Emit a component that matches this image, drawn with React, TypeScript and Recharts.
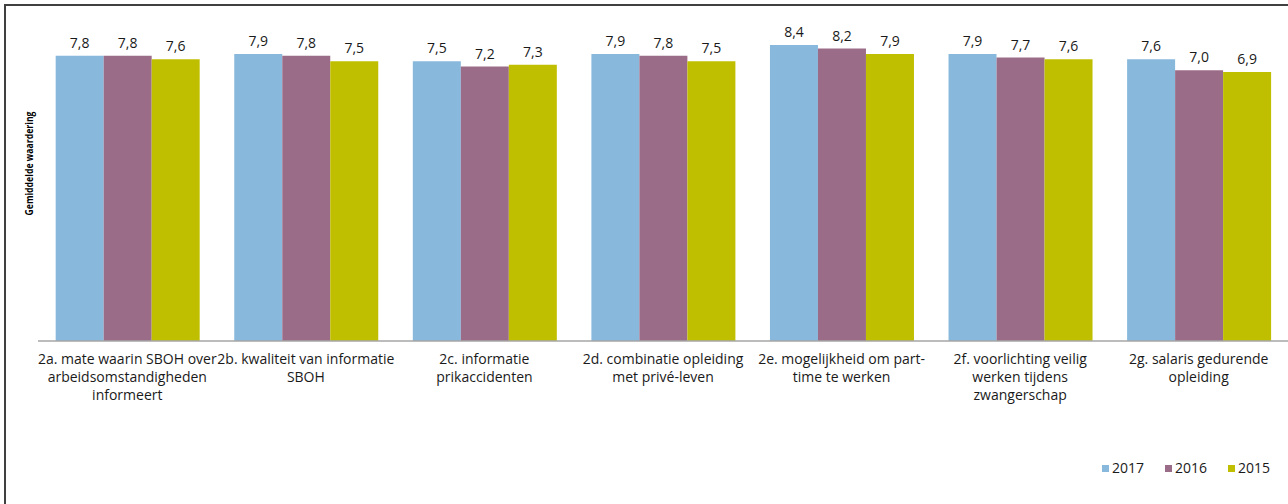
import { BarChart, Bar, XAxis, YAxis, LabelList } from 'recharts';

const categories = [
  '2a. mate waarin SBOH over\narbeidsomstandigheden\ninformeert',
  '2b. kwaliteit van informatie\nSBOH',
  '2c. informatie\nprikaccidenten',
  '2d. combinatie opleiding\nmet privé-leven',
  '2e. mogelijkheid om part-\ntime te werken',
  '2f. voorlichting veilig\nwerken tijdens\nzwangerschap',
  '2g. salaris gedurende\nopleiding',
];

const values2017 = [7.8, 7.9, 7.5, 7.9, 8.4, 7.9, 7.6];
const values2016 = [7.8, 7.8, 7.2, 7.8, 8.2, 7.7, 7.0];
const values2015 = [7.6, 7.5, 7.3, 7.5, 7.9, 7.6, 6.9];

// the original value axis runs from -8 to 10, bars grow from the bottom
const AXIS_MIN = -8;
const AXIS_MAX = 10;

const series = [
  { key: 'v2017', name: '2017', color: '#88B9DC' },
  { key: 'v2016', name: '2016', color: '#9B6C87' },
  { key: 'v2015', name: '2015', color: '#BFBF00' },
];

const data = categories.map((name, i) => ({
  name,
  v2017: [AXIS_MIN, values2017[i]],
  v2016: [AXIS_MIN, values2016[i]],
  v2015: [AXIS_MIN, values2015[i]],
}));

const FONT = '"Open Sans", sans-serif';

const CategoryTick = ({ x, y, payload }: any) => {
  const lines = String(payload.value).split('\n');
  return (
    <text x={x} y={y} textAnchor="middle" fill="#1a1a1a" fontSize={14} fontFamily={FONT}>
      {lines.map((line, i) => (
        <tspan key={i} x={x} dy={i === 0 ? 23 : 18}>
          {line}
        </tspan>
      ))}
    </text>
  );
};

const fmt = (v: any) => Number(v).toFixed(1).replace('.', ',');

export default function App() {
  return (
    <div style={{ position: 'absolute', left: 0, top: 0, width: 1288, height: 504, background: '#fff', overflow: 'hidden' }}>
      <div
        style={{
          position: 'absolute',
          left: 4,
          top: 4,
          width: 1320,
          height: 540,
          border: '2px solid #404040',
        }}
      />
      <svg style={{ position: 'absolute', left: 0, top: 0 }} width={60} height={340}>
        <text
          x={0}
          y={0}
          transform="translate(33 163.5) rotate(-90)"
          textAnchor="middle"
          fontFamily={FONT}
          fontSize={10.5}
          fontWeight={700}
          fill="#000"
          textLength={104}
          lengthAdjust="spacingAndGlyphs"
        >
          Gemiddelde waardering
        </text>
      </svg>
      <div style={{ position: 'absolute', left: 0, top: 0 }}>
        <BarChart
          width={1288}
          height={504}
          data={data}
          margin={{ top: 16, right: 0, left: 38, bottom: 0 }}
          barCategoryGap="9.9%"
          barGap={0}
        >
          <XAxis
            dataKey="name"
            interval={0}
            height={163}
            tickLine={false}
            tickSize={0}
            tickMargin={0}
            axisLine={{ stroke: '#A6A6A6', strokeWidth: 1.5 }}
            tick={<CategoryTick />}
          />
          <YAxis hide width={0} domain={[AXIS_MIN, AXIS_MAX]} />
          {series.map((s) => (
            <Bar key={s.key} dataKey={s.key} name={s.name} fill={s.color} isAnimationActive={false}>
              <LabelList
                position="top"
                offset={8}
                formatter={fmt}
                fill="#1a1a1a"
                fontSize={14}
                fontFamily={FONT}
              />
            </Bar>
          ))}
        </BarChart>
      </div>
      <div
        style={{
          position: 'absolute',
          left: 1102,
          top: 458,
          display: 'flex',
          fontFamily: FONT,
          fontSize: 14,
          color: '#1a1a1a',
          lineHeight: '20px',
        }}
      >
        {series.map((s) => (
          <div key={s.key} style={{ display: 'flex', alignItems: 'center', width: 63 }}>
            <span style={{ width: 7, height: 7, background: s.color, marginRight: 3, display: 'inline-block' }} />
            <span>{s.name}</span>
          </div>
        ))}
      </div>
    </div>
  );
}
